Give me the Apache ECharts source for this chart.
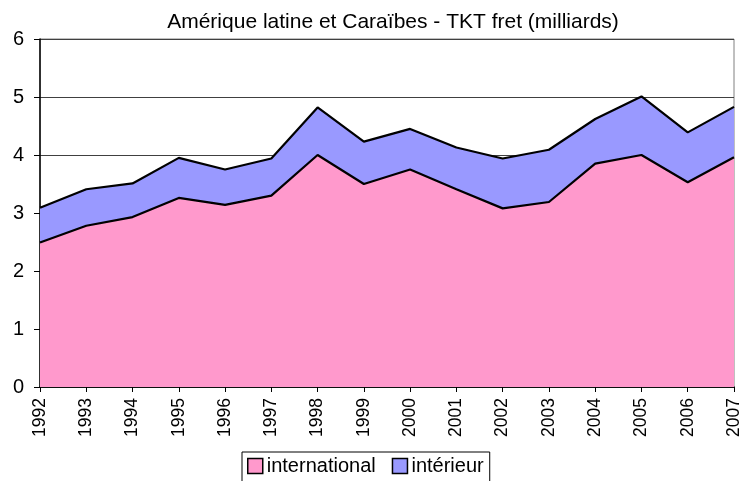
<!DOCTYPE html>
<html>
<head>
<meta charset="utf-8">
<script src="https://cdn.jsdelivr.net/npm/echarts@6/dist/echarts.min.js"></script>
<style>
  html, body { margin: 0; padding: 0; background: #fff; }
  #chart { width: 743px; height: 481px; }
</style>
</head>
<body>
<div id="chart"></div>
<script>
const years = ["1992", "1993", "1994", "1995", "1996", "1997", "1998", "1999",
  "2000", "2001", "2002", "2003", "2004", "2005", "2006", "2007"];
const international = [2.49, 2.78, 2.93, 3.26, 3.14, 3.30, 4.00, 3.50,
  3.75, 3.41, 3.08, 3.19, 3.85, 4.00, 3.53, 3.96];
const interieur = [0.60, 0.63, 0.58, 0.69, 0.61, 0.64, 0.82, 0.73,
  0.70, 0.72, 0.86, 0.90, 0.77, 1.01, 0.86, 0.87];
const yTicks = [0, 1, 2, 3, 4, 5, 6];

const font = "Liberation Sans, Arial, sans-serif";

const chart = echarts.init(document.getElementById("chart"));
chart.setOption({
  animation: false,
  backgroundColor: "#fff",
  title: {
    text: "Amérique latine et Caraïbes - TKT fret (milliards)",
    left: 388,
    textAlign: "center",
    top: 7,
    textStyle: { fontFamily: font, fontSize: 21, fontWeight: "normal", color: "#000" },
  },
  grid: {
    left: 40,
    right: 7,
    top: 39,
    bottom: 94,
    show: true,
    borderColor: "#808080",
    borderWidth: 1,
  },
  legend: {
    left: 242,
    top: 452,
    padding: [4, 6, 6, 5],
    itemGap: 16,
    itemWidth: 15,
    itemHeight: 15,
    icon: "rect",
    borderColor: "#000",
    borderWidth: 1,
    textStyle: { fontFamily: font, fontSize: 20, color: "#000", padding: [0, 0, 0, -1] },
    itemStyle: { borderColor: "#000", borderWidth: 1.5 },
    data: ["international", "intérieur"],
  },
  xAxis: {
    type: "category",
    boundaryGap: false,
    data: years,
    axisLine: { lineStyle: { color: "#000", width: 1.5 } },
    axisTick: { show: true, length: 5, lineStyle: { color: "#000" } },
    axisLabel: {
      rotate: 90,
      margin: 11,
      interval: 0,
      fontFamily: font,
      fontSize: 17.5,
      color: "#000",
    },
  },
  yAxis: {
    type: "value",
    min: yTicks[0],
    max: yTicks[yTicks.length - 1],
    interval: 1,
    axisLine: { show: true, lineStyle: { color: "#000", width: 1.5 } },
    axisTick: { show: true, length: 6, lineStyle: { color: "#000" } },
    axisLabel: { fontFamily: font, fontSize: 20, color: "#000", margin: 16 },
    splitLine: { lineStyle: { color: "#404040", width: 1 } },
  },
  series: [
    {
      name: "international",
      type: "line",
      stack: "total",
      data: international,
      symbol: "none",
      color: "#FF99CC",
      lineStyle: { color: "#000", width: 2.2 },
      areaStyle: { color: "#FF99CC", opacity: 1 },
    },
    {
      name: "intérieur",
      type: "line",
      stack: "total",
      data: interieur,
      symbol: "none",
      color: "#9999FF",
      lineStyle: { color: "#000", width: 2.2 },
      areaStyle: { color: "#9999FF", opacity: 1 },
    },
  ],
});
</script>
</body>
</html>
